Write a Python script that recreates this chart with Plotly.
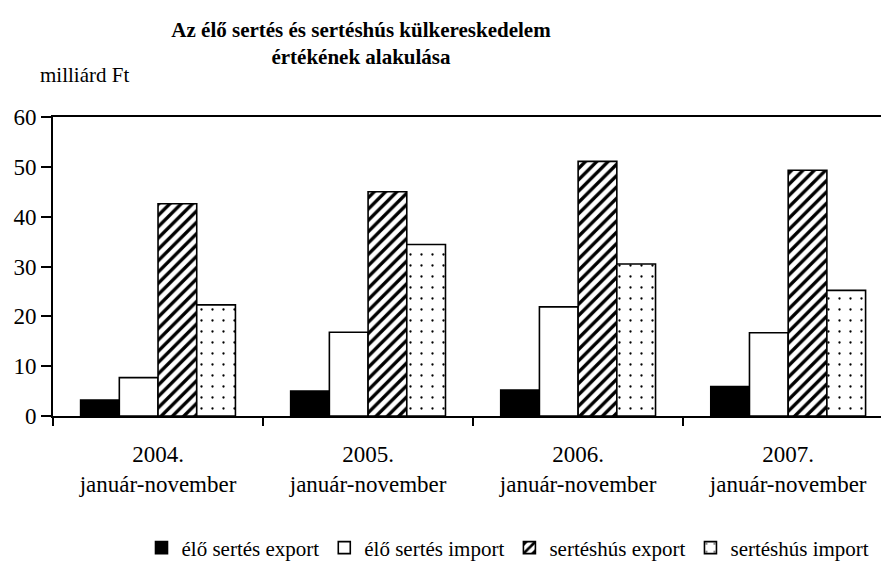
import plotly.graph_objects as go

categories = ["2004.<br>január-november", "2005.<br>január-november",
              "2006.<br>január-november", "2007.<br>január-november"]
elo_export = [3.2, 5.0, 5.2, 5.9]
elo_import = [7.7, 16.8, 21.9, 16.7]
hus_export = [42.6, 45.0, 51.1, 49.3]
hus_import = [22.3, 34.4, 30.5, 25.2]
series_names = ["élő sertés export", "élő sertés import", "sertéshús export", "sertéshús import"]

FONT = "Liberation Serif"
W, H = 881, 562
line = dict(color="black", width=1.6)

fig = go.Figure()
fig.add_bar(x=categories, y=elo_export, name=series_names[0],
            marker=dict(color="black", line=line))
fig.add_bar(x=categories, y=elo_import, name=series_names[1],
            marker=dict(color="white", line=line))
fig.add_bar(x=categories, y=hus_export, name=series_names[2],
            marker=dict(color="white", line=line,
                        pattern=dict(shape="/", fgcolor="black", bgcolor="white",
                                     size=8, solidity=0.42, fillmode="replace")))
fig.add_bar(x=categories, y=hus_import, name=series_names[3],
            marker=dict(color="white", line=line,
                        pattern=dict(shape=".", fgcolor="black", bgcolor="white",
                                     size=11, solidity=0.035, fillmode="replace")))

fig.update_layout(
    width=W, height=H,
    paper_bgcolor="white", plot_bgcolor="white",
    font=dict(family=FONT, color="black", size=21),
    barmode="group", bargap=0.263, bargroupgap=0,
    margin=dict(l=45, r=0, t=109, b=154, autoexpand=False),
    title=dict(text="<b>Az élő sertés és sertéshús külkereskedelem<br>értékének alakulása</b>",
               x=353/W, xref="container", xanchor="center",
               y=1-29/H, yref="container", yanchor="top",
               font=dict(family=FONT, size=21, color="black")),
    showlegend=True,
    legend=dict(orientation="h", xref="container", x=500/W, xanchor="center",
                yref="container", y=(H-540)/H, yanchor="middle",
                font=dict(family=FONT, size=21), itemwidth=30,
                traceorder="normal", bgcolor="rgba(0,0,0,0)"),
    annotations=[dict(text="milliárd Ft", xref="paper", yref="paper",
                      x=-15/836, y=1 + 42/299, xanchor="left", yanchor="middle",
                      showarrow=False, font=dict(family=FONT, size=21, color="black"))],
)
fig.update_xaxes(type="category", range=[-0.5, 3.48],
                 showline=True, linecolor="black", linewidth=2, mirror=True,
                 ticks="outside", tickson="boundaries", ticklen=8, tickwidth=2,
                 tickcolor="black", showgrid=False, zeroline=False, tickangle=0,
                 tickfont=dict(family=FONT, size=23), ticklabelstandoff=16)
fig.update_yaxes(range=[0, 60], dtick=10, showline=True, linecolor="black", linewidth=2,
                 ticks="outside", ticklen=10, tickwidth=2, tickcolor="black",
                 showgrid=False, zeroline=False,
                 tickfont=dict(family=FONT, size=23))

fig.write_html("out.html")
